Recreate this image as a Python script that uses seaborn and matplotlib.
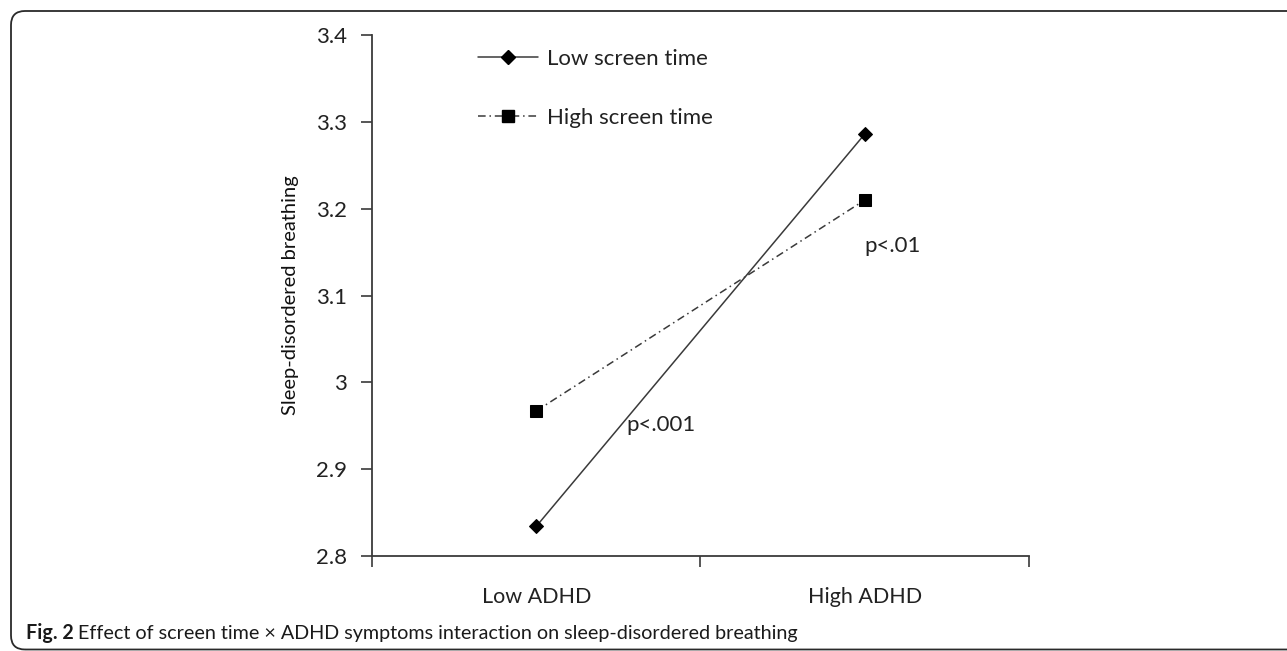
import pandas as pd
import numpy as np
import matplotlib.pyplot as plt
import matplotlib.patches as mpatches
from matplotlib.lines import Line2D
from matplotlib.ticker import FixedLocator, NullFormatter, FixedFormatter
import seaborn as sns

# values
adhd_levels = ['Low ADHD', 'High ADHD']
screen_groups = ['Low screen time', 'High screen time']
low_screen = [2.834, 3.286]
high_screen = [2.967, 3.210]
y_ticks = [2.8, 2.9, 3.0, 3.1, 3.2, 3.3, 3.4]
y_ticklabels = ['2.8', '2.9', '3', '3.1', '3.2', '3.3', '3.4']

df = pd.DataFrame({
    'ADHD': adhd_levels * 2,
    'SDB': low_screen + high_screen,
    'Screen': [screen_groups[0]] * 2 + [screen_groups[1]] * 2,
})

sns.set_theme(style='white')
plt.rcParams['font.family'] = ['Lato', 'DejaVu Sans']

fig = plt.figure(figsize=(12.87, 6.51), dpi=100)
ax = fig.add_axes([0.289, 0.146, 0.5105, 0.800])

sns.lineplot(data=df, x='ADHD', y='SDB', hue='Screen', style='Screen',
             palette={screen_groups[0]: '#3a3a3a', screen_groups[1]: '#3a3a3a'},
             markers={screen_groups[0]: 'D', screen_groups[1]: 's'},
             dashes={screen_groups[0]: '', screen_groups[1]: (5, 2.5, 1, 2.5)},
             linewidth=1.1, markersize=8, markeredgecolor='black',
             legend=False, ax=ax)
for ln in ax.lines:
    ln.set_markerfacecolor('black')
ax.lines[0].set_markersize(7.5)
ax.lines[1].set_markersize(9)

ax.set_xlim(-0.5, 1.5)
ax.set_ylim(2.8, 3.4)
ax.xaxis.set_major_locator(FixedLocator([-0.5, 0.5, 1.5]))
ax.xaxis.set_major_formatter(NullFormatter())
ax.xaxis.set_minor_locator(FixedLocator([0, 1]))
ax.xaxis.set_minor_formatter(FixedFormatter(adhd_levels))
ax.tick_params(axis='x', which='major', length=8, width=1.2, color='#3a3a3a', direction='out', bottom=True)
ax.tick_params(axis='x', which='minor', length=0, pad=22, labelsize=15.5, labelcolor='#222222', bottom=True)
ax.set_yticks(y_ticks)
ax.set_yticklabels(y_ticklabels)
ax.tick_params(axis='y', length=8, width=1.2, color='#3a3a3a', direction='out', left=True,
               pad=10, labelsize=16, labelcolor='#222222')

for s in ['top', 'right']:
    ax.spines[s].set_visible(False)
for s in ['left', 'bottom']:
    ax.spines[s].set_color('#3a3a3a')
    ax.spines[s].set_linewidth(1.3)

ax.set_xlabel('')
ax.set_ylabel('Sleep-disordered breathing', fontsize=14.5, color='#111111')
ax.yaxis.set_label_coords(-0.111, 0.5)

ax.text(0.381, 2.951, 'p<.001', fontsize=16, color='#222222', ha='center', va='center')
ax.text(1.084, 3.157, 'p<.01', fontsize=16, color='#222222', ha='center', va='center')

handles = [
    Line2D([], [], color='#3a3a3a', lw=1.1, marker='D', markersize=7.5,
           markerfacecolor='black', markeredgecolor='black'),
    Line2D([], [], color='#3a3a3a', lw=1.1, ls=(0, (5, 2.5, 1, 2.5)), marker='s',
           markersize=9, markerfacecolor='black', markeredgecolor='black'),
]
ax.legend(handles, screen_groups, loc='upper left', bbox_to_anchor=(0.131, 1.012),
          frameon=False, fontsize=16, handlelength=2.7, handletextpad=0.4,
          labelspacing=1.75, labelcolor='#222222')

# rounded figure frame
frame = mpatches.FancyBboxPatch((11, 1.5), 1400, 638.5,
                                boxstyle='round,pad=0,rounding_size=14',
                                transform=None, fill=False, edgecolor='#2a2a2a', linewidth=1.3)
fig.patches.append(frame)

# caption
fig.canvas.draw()
renderer = fig.canvas.get_renderer()
cap_font = ['Lato', 'DejaVu Sans']
t1 = fig.text(26 / 1287, 18 / 651, 'Fig. 2', fontsize=14.2, fontweight='bold',
              family=cap_font, va='center', ha='left', color='#1a1a1a')
bb = t1.get_window_extent(renderer)
fig.text((bb.x1 + 4) / 1287, 18 / 651,
         'Effect of screen time \u00d7 ADHD symptoms interaction on sleep-disordered breathing',
         fontsize=14.2, family=cap_font, va='center', ha='left', color='#1a1a1a')

fig.savefig('out.png', dpi=100)
